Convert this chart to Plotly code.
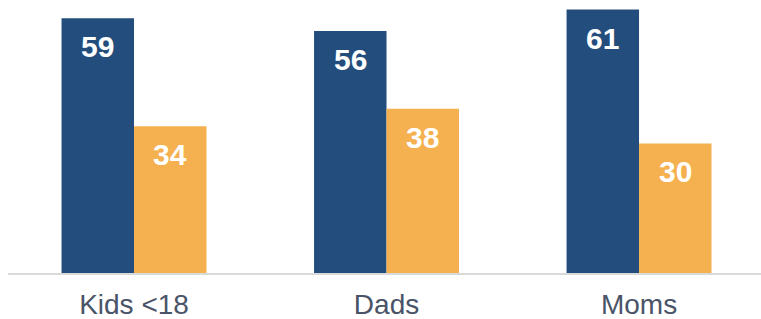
import plotly.graph_objects as go

categories = ["Kids <18", "Dads", "Moms"]
series_a = [59, 56, 61]
series_b = [34, 38, 30]
colors = ["#234D7C", "#F5B04F"]

fig = go.Figure()
for vals, col in zip([series_a, series_b], colors):
    fig.add_trace(go.Bar(x=list(range(len(categories))), y=vals, marker_color=col,
                         marker_line_width=0, hoverinfo="skip"))

offset = 0.1435
anns = []
for j, (vals, sgn) in enumerate(zip([series_a, series_b], [-1, 1])):
    for i, v in enumerate(vals):
        anns.append(dict(x=i + sgn * offset, y=v, text=f"<b>{v}</b>", showarrow=False,
                         yanchor="top", yshift=-10, xref="x", yref="y",
                         font=dict(family="Liberation Sans, Arial", size=30, color="white")))

fig.update_layout(
    width=761, height=319,
    margin=dict(l=8, r=0, t=0, b=46),
    paper_bgcolor="white", plot_bgcolor="white",
    barmode="group", bargap=0.426, bargroupgap=0,
    showlegend=False,
    annotations=anns,
    xaxis=dict(tickmode="array", tickvals=list(range(len(categories))), ticktext=categories,
               range=[-0.499, 2.483], showline=True, linecolor="#D9D9D9", linewidth=2,
               showgrid=False, zeroline=False, ticks="", ticklabelstandoff=5, automargin=False,
               tickfont=dict(family="Liberation Sans, Arial", size=28, color="#4A5468")),
    yaxis=dict(range=[0, 63.2], visible=False, showgrid=False, zeroline=False, automargin=False),
)
fig.write_html("out.html", config={"displayModeBar": False},
               post_script="document.body.style.margin='0';document.body.style.overflow='hidden';")
